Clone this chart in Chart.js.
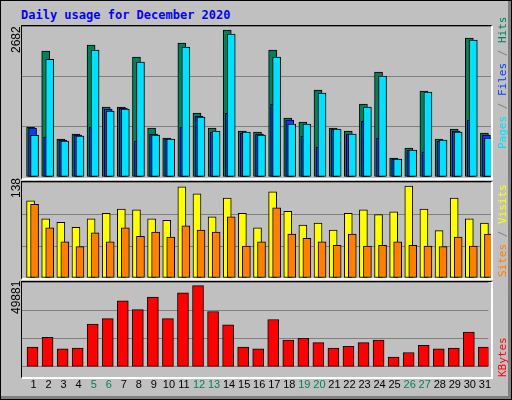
<!DOCTYPE html>
<html><head><meta charset="utf-8">
<script src="https://cdn.jsdelivr.net/npm/chart.js@4/dist/chart.umd.min.js"></script>
<style>
body{margin:0;background:#c0c0c0;}
#wrap{position:relative;width:510px;height:398px;background:#c0c0c0;border:1px solid #000;overflow:hidden;}
#wrap:after{content:"";position:absolute;right:0;bottom:0;width:508px;height:396px;border-right:3px solid #808080;border-bottom:3px solid #808080;pointer-events:none;}
canvas{position:absolute;}
.frame{position:absolute;border-top:1px solid #000;border-left:1px solid #000;border-right:2px solid #fff;border-bottom:2px solid #fff;pointer-events:none;box-sizing:border-box;}
.t{position:absolute;font-family:"DejaVu Sans Mono",monospace;font-size:11px;white-space:nowrap;transform-origin:0 0;transform:rotate(-90deg);}
.n{position:absolute;font-family:"Liberation Sans",Arial,sans-serif;font-size:12px;white-space:nowrap;transform-origin:0 0;transform:rotate(-90deg);color:#000;}
#title{position:absolute;left:20px;top:7px;font-family:"DejaVu Sans Mono",monospace;font-weight:bold;font-size:12px;color:#0000ff;}
</style></head><body>
<div id="wrap">
<div id="title">Daily usage for December 2020</div>
<canvas id="c1" width="469" height="151" style="left:21px;top:25px"></canvas>
<canvas id="c2" width="469" height="96" style="left:21px;top:181px"></canvas>
<canvas id="c3" width="469" height="114" style="left:21px;top:281px"></canvas>
<div class="frame" style="left:20px;top:24px;width:472px;height:155px"></div>
<div class="frame" style="left:20px;top:180px;width:472px;height:99px"></div>
<div class="frame" style="left:20px;top:280px;width:472px;height:98px"></div>
<div class="n" style="left:8px;top:52px">2682</div>
<div class="n" style="left:8px;top:197px">138</div>
<div class="n" style="left:8px;top:313px">49881</div>
<div class="t" style="left:495px;top:148px"><span style="color:#00e0ff">Pages</span><span style="color:#808080"> / </span><span style="color:#0040ff">Files</span><span style="color:#808080"> / </span><span style="color:#00805c">Hits</span></div>
<div class="t" style="left:495px;top:276px"><span style="color:#ff8000">Sites</span><span style="color:#808080"> / </span><span style="color:#ffff00">Visits</span></div>
<div class="t" style="left:495px;top:376px"><span style="color:#ff0000">KBytes</span></div>
</div>
<script>
const days=['1','2','3','4','5','6','7','8','9','10','11','12','13','14','15','16','17','18','19','20','21','22','23','24','25','26','27','28','29','30','31'];
const weekend=['5','6','12','13','19','20','26','27'];
const hits=[888,2238,675,764,2344,1243,1243,2131,870,693,2380,1137,870,2611,817,799,2256,1048,977,1545,870,817,1296,1865,337,515,1527,675,852,2469,781];
const files=[870,710,657,746,888,1208,1225,639,764,675,888,1083,799,1137,781,764,1296,1012,728,533,852,764,995,693,320,480,444,639,817,1012,746];
const pages=[740,2090,639,728,2256,1172,1208,2042,746,675,2309,1066,817,2540,799,746,2131,941,941,1492,852,764,1243,1794,320,480,1510,657,799,2433,693];
const visits=[111,85,80,73,85,93,99,98,85,83,131,121,88,115,93,72,124,96,76,79,69,93,98,91,95,132,99,68,115,85,79];
const sites=[106,72,52,45,65,52,72,60,66,59,75,69,66,88,46,52,101,63,57,52,47,63,46,47,52,47,46,45,59,46,63];
const kbytes=[11550,17325,10500,11025,25200,28350,38850,33600,40950,28350,43575,47775,32550,24675,11550,10500,27825,15750,16800,14175,11025,12075,14175,15750,5775,8400,12600,10500,11025,20475,11550];
const maxHits=2682, maxVisits=138, maxKB=49881;

const shiftPlugin={id:'shift',afterDatasetUpdate(chart,args){
  const s=chart.data.datasets[args.index].shiftX||0;
  args.meta.data.forEach(e=>{e.x+=s;});
}};
function ds(label,data,color,w,shift,order){
  return {label,data,backgroundColor:color,borderColor:'#000',borderWidth:1,borderSkipped:false,barThickness:w,shiftX:shift,grouped:false,order};
}
function mk(id,datasets,max,showX){
  new Chart(document.getElementById(id),{
    type:'bar',
    data:{labels:days,datasets},
    options:{responsive:false,animation:false,devicePixelRatio:1,
      layout:{padding:0},
      plugins:{legend:{display:false},tooltip:{enabled:false}},
      scales:{
        x:{offset:true,display:showX,grid:{display:false},border:{display:false},
           ticks:{padding:4,labelOffset:4,maxRotation:0,autoSkip:false,font:{family:'"Liberation Sans"',size:11},
             color:c=>weekend.includes(days[c.index])?'#00805c':'#000'}},
        y:{min:0,max:max,display:true,border:{display:false},
           ticks:{display:false,stepSize:max/3},grid:{color:'#808080',drawTicks:false,lineWidth:1}}
      }},
    plugins:[shiftPlugin]
  });
}
mk('c1',[ds('Hits',hits,'#00805c',8,1,3),ds('Files',files,'#0040ff',8,3,2),ds('Pages',pages,'#00e0ff',8,5,1)],maxHits,false);
mk('c2',[ds('Visits',visits,'#ffff00',8,1,2),ds('Sites',sites,'#ff8000',8,5,1)],maxVisits,false);
mk('c3',[ds('KBytes',kbytes,'#ff0000',11,3,1)],maxKB,true);
</script>
</body></html>
